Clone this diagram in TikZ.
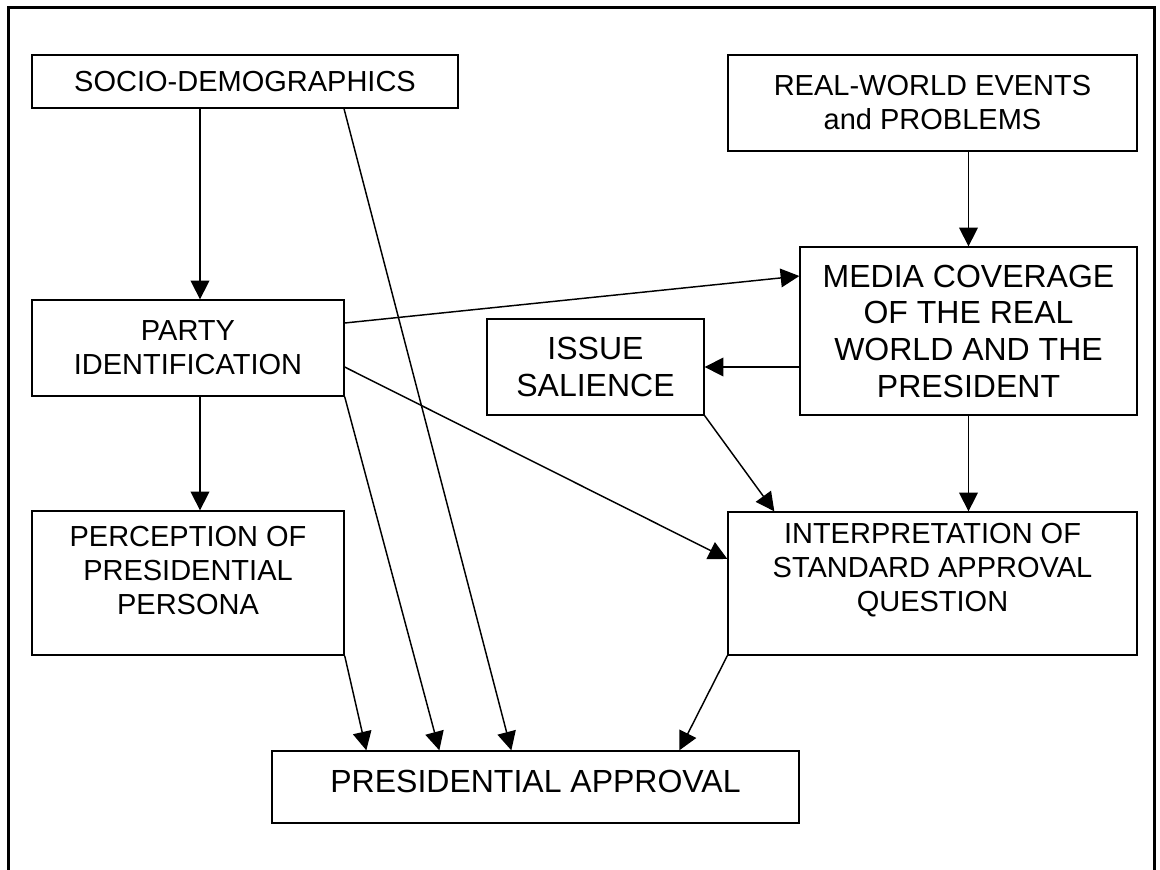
\documentclass[tikz,border=0pt]{standalone}
\usepackage{fontspec}
\setmainfont{Liberation Sans}
\usetikzlibrary{arrows.meta}
\begin{document}
\begin{tikzpicture}[x=0.75pt,y=-0.75pt,
  box/.style={draw, line width=1pt, inner sep=0pt, align=center, font=\fontsize{21.75}{25.5}\selectfont},
  bigbox/.style={box, font=\fontsize{24}{27.5}\selectfont},
  txt/.style={inner sep=0pt, align=center, font=\fontsize{21.75}{25.5}\selectfont},
  bigtxt/.style={txt, font=\fontsize{24}{27.5}\selectfont},
  arr/.style={line width=1.1pt, -{Triangle[length=14pt,width=14pt]}},
  frame/.style={line width=2.25pt}]
\useasboundingbox (0,0) rectangle (1160,869);

% outer frame (open at the bottom)
\coordinate (fbl) at (8,870);
\coordinate (ftl) at (8,7);
\coordinate (ftr) at (1154,7);
\coordinate (fbr) at (1154,870);
\draw[frame] (fbl) -- (ftl) -- (ftr) -- (fbr);

% boxes
\node[box, minimum width=319.5pt, minimum height=39.75pt] (socio) at (245,81.5) {SOCIO-DEMOGRAPHICS};
\node[box, minimum width=306.75pt, minimum height=72pt] (real) at (932.5,103) {REAL-WORLD EVENTS\\and PROBLEMS};
\node[box, minimum width=234pt, minimum height=72pt] (party) at (188,348) {PARTY\\IDENTIFICATION};
\node[bigbox, minimum width=252.75pt, minimum height=126pt] (media) at (968.5,331) {MEDIA COVERAGE\\OF THE REAL\\WORLD AND THE\\PRESIDENT};
\node[bigbox, minimum width=162.75pt, minimum height=72pt] (issue) at (595.5,367) {ISSUE\\SALIENCE};
\node[box, minimum width=234pt, minimum height=108pt] (perc) at (188,583) {};
\node[txt] (percT) at (188,571) {PERCEPTION OF\\PRESIDENTIAL\\PERSONA};
\node[box, minimum width=306.75pt, minimum height=107.25pt] (interp) at (932.5,583.5) {};
\node[txt] (interpT) at (932.5,570) {INTERPRETATION OF\\STANDARD APPROVAL\\QUESTION};
\node[box, minimum width=395.25pt, minimum height=54pt] (pres) at (535.5,787) {};
\node[bigtxt] (presT) at (535.5,781) {PRESIDENTIAL APPROVAL};

% connectors
\draw[arr] ([xshift=-33.75pt]socio.south) -- ([xshift=9pt]party.north);
\draw[arr] ([xshift=74.25pt]socio.south) -- ([xshift=180pt]pres.north west);
\draw[arr] (real.south -| media.north) -- (media.north);
\draw[arr] ([yshift=18.75pt]party.east) -- ([yshift=41.25pt]media.west);
\draw[arr] (media.west |- issue.east) -- (issue.east);
\draw[arr] ([yshift=-14.25pt]party.east) -- ([yshift=18.4pt]interp.west);
\draw[arr] (issue.south east) -- ([xshift=35.25pt]interp.north west);
\draw[arr] (media.south) -- (media.south |- interp.north);
\draw[arr] ([xshift=9pt]party.south) -- ([xshift=9pt]perc.north);
\draw[arr] (party.south east) -- ([xshift=126pt]pres.north west);
\draw[arr] (perc.south east) -- ([xshift=71.25pt]pres.north west);
\draw[arr] (interp.south west) -- ([xshift=306pt]pres.north west);
\end{tikzpicture}
\end{document}
